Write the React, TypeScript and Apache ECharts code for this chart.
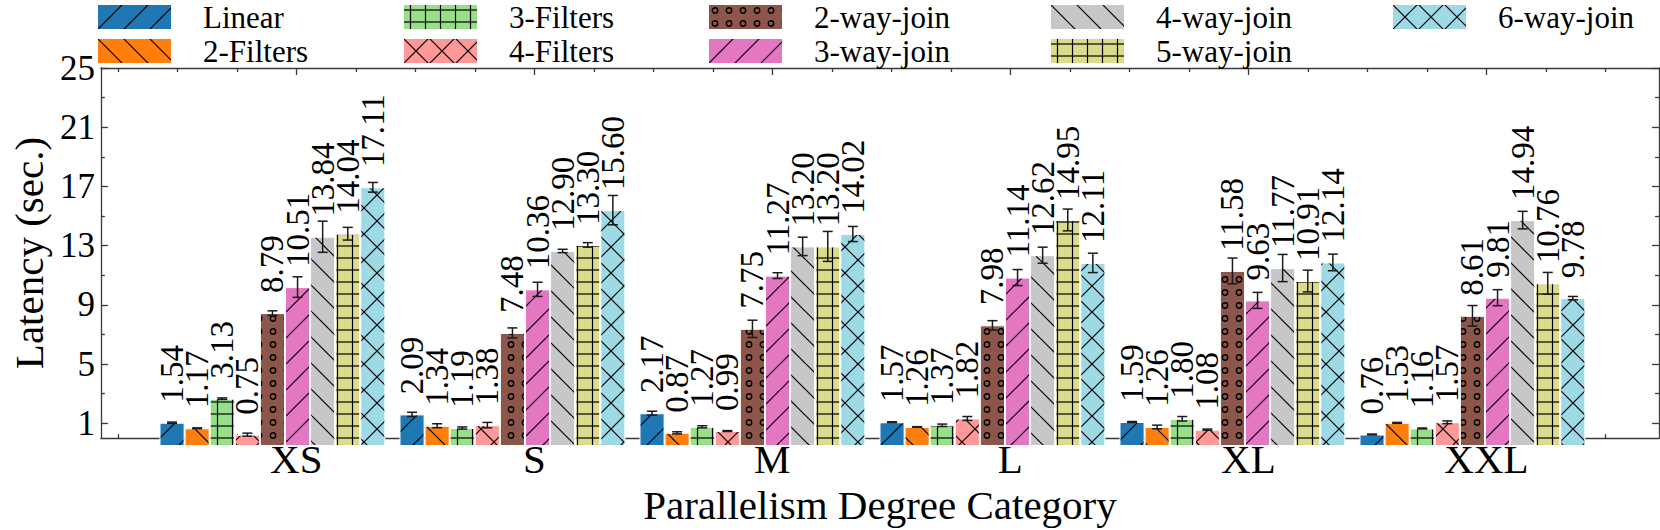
import React, { useEffect, useRef } from "react";
import * as echarts from "echarts";

const FONT = "'Liberation Serif', 'Times New Roman', serif";

const categories = ["XS", "S", "M", "L", "XL", "XXL"];
const seriesNames = [
  "Linear",
  "2-Filters",
  "3-Filters",
  "4-Filters",
  "2-way-join",
  "3-way-join",
  "4-way-join",
  "5-way-join",
  "6-way-join",
];

const linear = [1.54, 2.09, 2.17, 1.57, 1.59, 0.76];
const filters2 = [1.17, 1.34, 0.87, 1.26, 1.26, 1.53];
const filters3 = [3.13, 1.19, 1.27, 1.37, 1.8, 1.16];
const filters4 = [0.75, 1.38, 0.99, 1.82, 1.08, 1.57];
const join2 = [8.79, 7.48, 7.75, 7.98, 11.58, 8.61];
const join3 = [10.51, 10.36, 11.27, 11.14, 9.63, 9.81];
const join4 = [13.84, 12.9, 13.2, 12.62, 11.77, 14.94];
const join5 = [14.04, 13.3, 13.2, 14.95, 10.91, 10.76];
const join6 = [17.11, 15.6, 14.02, 12.11, 12.14, 9.78];

const linearErr = [0.04, 0.14, 0.13, 0.03, 0.03, 0.03];
const filters2Err = [0.03, 0.13, 0.07, 0.02, 0.12, 0.03];
const filters3Err = [0.05, 0.07, 0.07, 0.08, 0.15, 0.03];
const filters4Err = [0.1, 0.18, 0.03, 0.13, 0.04, 0.09];
const join2Err = [0.15, 0.33, 0.57, 0.31, 0.85, 0.68];
const join3Err = [0.68, 0.47, 0.19, 0.53, 0.53, 0.53];
const join4Err = [1.03, 0.11, 0.61, 0.53, 0.9, 0.58];
const join5Err = [0.42, 0.15, 0.99, 0.72, 0.72, 0.72];
const join6Err = [0.32, 0.97, 0.5, 0.64, 0.55, 0.11];

const values = [linear, filters2, filters3, filters4, join2, join3, join4, join5, join6];
const errors = [linearErr, filters2Err, filters3Err, filters4Err, join2Err, join3Err, join4Err, join5Err, join6Err];

const colors = ["#1f77b4", "#ff7f0e", "#98df8a", "#ff9896", "#8c564b", "#e377c2", "#c7c7c7", "#dbdb8d", "#9edae5"];
const hatches = ["/", "\\", "+", "x", "o", "/", "\\", "+", "x"];

const yMajorTicks = [1, 5, 9, 13, 17, 21, 25];
const yMinorTicks = [3, 7, 11, 15, 19, 23];
const xMajorTicks = [0, 1, 2, 3, 4, 5];
const xMinorTicks = [-0.75, -0.5, -0.25, 0.25, 0.5, 0.75, 1.25, 1.5, 1.75, 2.25, 2.5, 2.75, 3.25, 3.5, 3.75, 4.25, 4.5, 4.75, 5.25, 5.5];

// legend: column-major, 2 rows
const legendColumnLefts = [96, 402, 707, 1049, 1391];
const legendRowTops = [0, 34];

// layout (px)
const FRAME_LEFT = 88;
const FRAME_RIGHT = 1659;
const TOP = 68;
const BOTTOM = 446;
const CAT_W = 240;
const FIRST_TICK = 285;
const BAR_FRAC = 0.10458; // bar width as fraction of the category band
const X_MIN = (FRAME_LEFT - FIRST_TICK) / CAT_W;
const X_MAX = (FRAME_RIGHT - FIRST_TICK) / CAT_W;
const BAR_GRID_LEFT = FIRST_TICK - (CAT_W * BAR_FRAC) / 2 - CAT_W / 2;

function makePattern(bg: string, hatch: string) {
  let w = 26;
  let h = 26;
  if (hatch === "+") {
    w = 15;
    h = 12;
  }
  if (hatch === "o") {
    w = 14;
    h = 13;
  }
  const c = document.createElement("canvas");
  c.width = w;
  c.height = h;
  const ctx = c.getContext("2d")!;
  ctx.fillStyle = bg;
  ctx.fillRect(0, 0, w, h);
  ctx.strokeStyle = "#000";
  ctx.lineWidth = 1.2;
  const line = (x1: number, y1: number, x2: number, y2: number) => {
    ctx.beginPath();
    ctx.moveTo(x1, y1);
    ctx.lineTo(x2, y2);
    ctx.stroke();
  };
  if (hatch === "/" || hatch === "x") {
    for (const o of [-w, 0, w]) line(o, h, o + w, 0);
  }
  if (hatch === "\\" || hatch === "x") {
    for (const o of [-w, 0, w]) line(o, 0, o + w, h);
  }
  if (hatch === "+") {
    line(0, h / 2, w, h / 2);
    line(w / 2, 0, w / 2, h);
  }
  if (hatch === "o") {
    ctx.lineWidth = 1.4;
    ctx.beginPath();
    ctx.arc(w / 2, h / 2, 2.7, 0, Math.PI * 2);
    ctx.stroke();
  }
  return { image: c.toDataURL(), repeat: "repeat", imageWidth: w, imageHeight: h };
}

export default function App() {
  const ref = useRef<HTMLDivElement>(null);

  useEffect(() => {
    if (!ref.current) return;
    const chart = echarts.init(ref.current, null, { renderer: "svg" });
    const axisLS = { color: "#3a3a3a", width: 1.3 };

    const barSeries = seriesNames.map((name, i) => ({
      name,
      type: "bar",
      xAxisIndex: 4,
      yAxisIndex: 4,
      data: values[i],
      barWidth: (BAR_FRAC * 100).toFixed(3) + "%",
      barGap: "0%",
      itemStyle: { color: makePattern(colors[i], hatches[i]), borderColor: "#ffffff", borderWidth: 1 },
      label: {
        show: true,
        position: "top",
        distance: 20,
        rotate: 90,
        align: "left",
        verticalAlign: "middle",
        formatter: (p: any) => Number(p.value).toFixed(2),
        fontSize: 33,
        fontFamily: FONT,
        color: "#000",
      },
      z: 2,
    }));

    const errSeries = seriesNames.map((name, i) => ({
      name: "err-" + name,
      type: "custom",
      xAxisIndex: 4,
      yAxisIndex: 4,
      data: values[i].map((v, k) => [k, v, errors[i][k]]),
      encode: { x: 0, y: 1 },
      z: 3,
      silent: true,
      renderItem: (params: any, api: any) => {
        const cat = api.value(0);
        const v = api.value(1);
        const e = api.value(2);
        const band = api.size([1, 0])[0];
        const cx = api.coord([cat, v])[0] + (i - 4) * band * BAR_FRAC;
        const yTop = api.coord([cat, v + e])[1];
        const yBot = api.coord([cat, v - e])[1];
        const style = { stroke: "#1a1a1a", lineWidth: 1.5 };
        return {
          type: "group",
          children: [
            { type: "line", shape: { x1: cx, y1: yTop, x2: cx, y2: yBot }, style },
            { type: "line", shape: { x1: cx - 5, y1: yTop, x2: cx + 5, y2: yTop }, style },
            { type: "line", shape: { x1: cx - 5, y1: yBot, x2: cx + 5, y2: yBot }, style },
          ],
        };
      },
    }));

    const frameX = (position: string, ticks: number[], len: number, line: boolean, labels: boolean) => ({
      gridIndex: 0,
      type: "value",
      min: X_MIN,
      max: X_MAX,
      position,
      splitLine: { show: false },
      axisLine: { show: line, onZero: false, lineStyle: axisLS },
      axisTick: { show: true, inside: true, length: len, customValues: ticks, lineStyle: axisLS },
      axisLabel: labels
        ? {
            show: true,
            customValues: xMajorTicks,
            formatter: (v: number) => categories[Math.round(v)] ?? "",
            fontSize: 41,
            lineHeight: 41,
            fontFamily: FONT,
            color: "#000",
            margin: 0,
          }
        : { show: false },
    });

    const frameY = (position: string, ticks: number[], len: number, line: boolean, labels: boolean) => ({
      gridIndex: 0,
      type: "value",
      min: 0,
      max: 25,
      position,
      splitLine: { show: false },
      axisLine: { show: line, onZero: false, lineStyle: axisLS },
      axisTick: { show: true, inside: true, length: len, customValues: ticks, lineStyle: axisLS },
      axisLabel: labels
        ? { show: true, customValues: yMajorTicks, fontSize: 35, fontFamily: FONT, color: "#000", margin: 6 }
        : { show: false },
    });

    const xBottom: any = frameX("bottom", xMajorTicks, 7, true, true);
    xBottom.name = "Parallelism Degree Category";
    xBottom.nameLocation = "middle";
    xBottom.nameGap = 44;
    xBottom.nameTextStyle = { fontSize: 41, lineHeight: 41, fontFamily: FONT, color: "#000" };

    const yLeft: any = frameY("left", yMajorTicks, 7, true, true);
    yLeft.name = "Latency (sec.)";
    yLeft.nameLocation = "middle";
    yLeft.nameGap = 47;
    yLeft.nameTextStyle = { fontSize: 41, lineHeight: 41, fontFamily: FONT, color: "#000" };

    const legends = seriesNames.map((name, i) => ({
      data: [name],
      orient: "vertical",
      left: legendColumnLefts[Math.floor(i / 2)],
      top: legendRowTops[i % 2],
      padding: 0,
      itemWidth: 75,
      itemHeight: 26,
      icon: "rect",
      selectedMode: false,
      textStyle: { fontSize: 31, lineHeight: 34, fontFamily: FONT, color: "#000", padding: [0, 0, 0, 26] },
    }));

    const option: any = {
      animation: false,
      backgroundColor: "#ffffff",
      textStyle: { fontFamily: FONT },
      legend: legends,
      grid: [
        { left: FRAME_LEFT, width: FRAME_RIGHT - FRAME_LEFT, top: TOP, height: BOTTOM - TOP, containLabel: false },
        { left: BAR_GRID_LEFT, width: CAT_W * categories.length, top: TOP, height: BOTTOM - TOP, containLabel: false },
      ],
      xAxis: [
        xBottom,
        frameX("bottom", xMinorTicks, 4, false, false),
        frameX("top", xMajorTicks, 7, true, false),
        frameX("top", xMinorTicks, 4, false, false),
        { gridIndex: 1, type: "category", data: categories, show: false, boundaryGap: true },
      ],
      yAxis: [
        yLeft,
        frameY("left", yMinorTicks, 4, false, false),
        frameY("right", yMajorTicks, 7, true, false),
        frameY("right", yMinorTicks, 4, false, false),
        { gridIndex: 1, type: "value", min: 0, max: 25, show: false },
      ],
      series: [...barSeries, ...errSeries],
    };

    chart.setOption(option);
    return () => chart.dispose();
  }, []);

  return (
    <div
      ref={ref}
      style={{ position: "fixed", left: 0, top: 0, width: 1660, height: 530, background: "#fff" }}
    />
  );
}
